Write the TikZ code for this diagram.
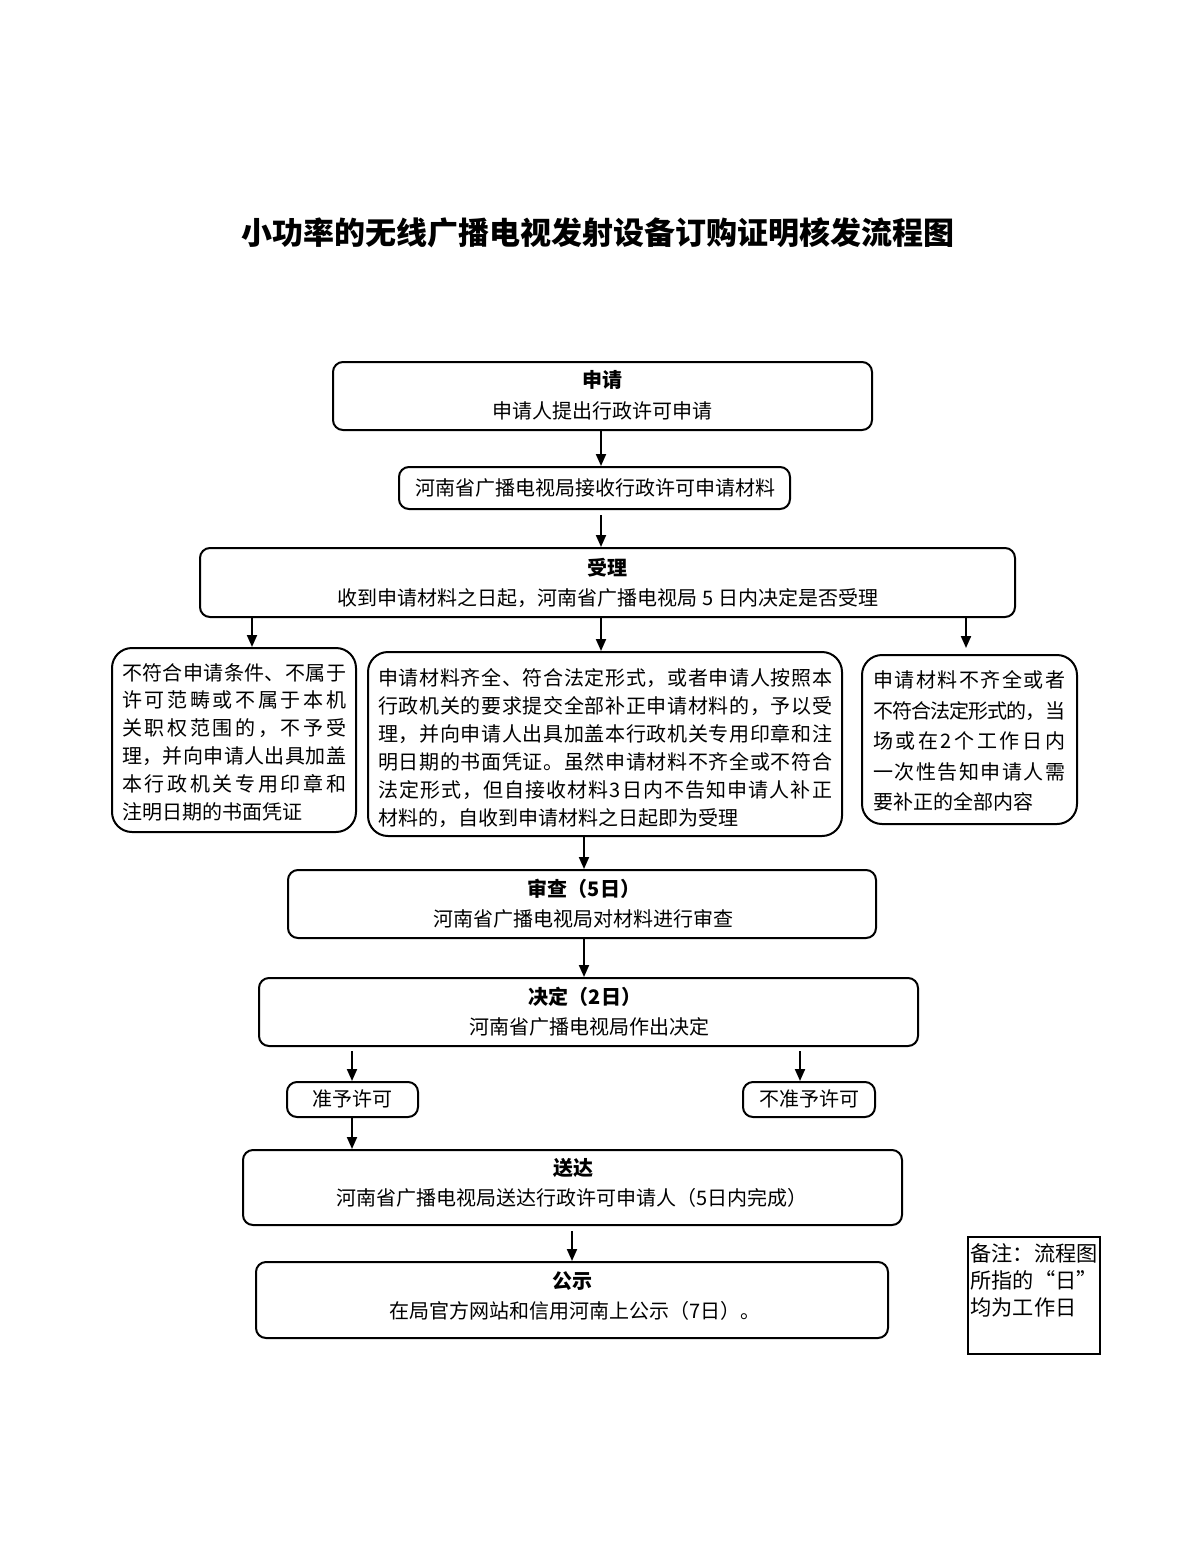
\documentclass[tikz,border=0pt]{standalone}
\usepackage{fontspec}
\setmainfont{Noto Sans CJK SC}
\usetikzlibrary{arrows.meta}
\def\spreadchars#1{\ifx#1\relax\else#1\hskip 0pt plus 1fil minus 0.6pt\relax\expandafter\spreadchars\fi}
\newcommand\sline[2]{\hbox to #1{\spreadchars#2\relax\unskip}}
\tikzset{
  box/.style={draw, line width=1pt, rounded corners=5pt, inner sep=0pt},
  bigbox/.style={draw, line width=1pt, rounded corners=10pt, inner sep=0pt},
  txt/.style={inner sep=0pt, font=\fontsize{10pt}{12pt}\selectfont},
  head/.style={inner sep=0pt, font=\fontsize{10pt}{12pt}\selectfont\bfseries},
  arr/.style={-{Triangle[width=5pt,length=6pt]}, line width=1pt},
}
\begin{document}
\begin{tikzpicture}[x=0.5pt,y=-0.5pt]
\path[use as bounding box, fill=white] (0,0) rectangle (1200,1553);

\node[inner sep=0pt, font=\fontsize{15.5pt}{18pt}\selectfont\bfseries] (title) at (598,233) {小功率的无线广播电视发射设备订购证明核发流程图};

% boxes
\node[box, minimum width=269.5pt, minimum height=34pt] (b1) at (602.5,396) {};
\node[box, minimum width=195.5pt, minimum height=21pt] (b2) at (594.5,488) {};
\node[box, minimum width=407.5pt, minimum height=34.5pt] (b3) at (607.5,582.5) {};
\node[bigbox, minimum width=122pt, minimum height=92pt] (bl) at (234,740) {};
\node[bigbox, minimum width=237pt, minimum height=92pt] (bm) at (605,744) {};
\node[bigbox, minimum width=107.5pt, minimum height=84.5pt] (br) at (969.5,739.5) {};
\node[box, minimum width=294pt, minimum height=34pt] (b4) at (582,904) {};
\node[box, minimum width=329.5pt, minimum height=34pt] (b5) at (588.5,1012) {};
\node[box, minimum width=65.5pt, minimum height=17.5pt] (by) at (352.5,1099.5) {};
\node[box, minimum width=66pt, minimum height=17.5pt] (bn) at (809,1099.5) {};
\node[box, minimum width=329.5pt, minimum height=37.5pt] (b6) at (572.5,1187.5) {};
\node[box, minimum width=316pt, minimum height=38pt] (b7) at (572,1300) {};
\node[draw, line width=0.8pt, minimum width=66pt, minimum height=58.5pt, inner sep=0pt] (note) at (1034,1295.5) {};

% texts
\node[head] (t1a) at (602,380) {申请};
\node[txt] (t1b) at (602,411) {申请人提出行政许可申请};
\node[txt] (t2) at (595,488) {河南省广播电视局接收行政许可申请材料};
\node[head] (t3a) at (607,568) {受理};
\node[txt] (t3b) at (608,598) {收到申请材料之日起，河南省广播电视局 5 日内决定是否受理};

\node[txt] (tl) at (234,742) {\vbox{\baselineskip=13.9pt
\sline{112pt}{不符合申请条件、不属于}
\sline{112pt}{许可范畴或不属于本机}
\sline{112pt}{关职权范围的，不予受}
\sline{112pt}{理，并向申请人出具加盖}
\sline{112pt}{本行政机关专用印章和}
\hbox{注明日期的书面凭证}}};

\node[txt] (tm) at (605,748) {\vbox{\baselineskip=14pt
\sline{227pt}{申请材料齐全、符合法定形式，或者申请人按照本}
\sline{227pt}{行政机关的要求提交全部补正申请材料的，予以受}
\sline{227pt}{理，并向申请人出具加盖本行政机关专用印章和注}
\sline{227pt}{明日期的书面凭证。虽然申请材料不齐全或不符合}
\sline{227pt}{法定形式，但自接收材料3日内不告知申请人补正}
\hbox{材料的，自收到申请材料之日起即为受理}}};

\node[txt] (tr) at (969,741) {\vbox{\baselineskip=15.25pt
\sline{96pt}{申请材料不齐全或者}
\sline{96pt}{不符合法定形式的，当}
\sline{96pt}{场或在2个工作日内}
\sline{96pt}{一次性告知申请人需}
\hbox{要补正的全部内容}}};

\node[head] (t4a) at (584,889) {审查（5日）};
\node[txt] (t4b) at (583,919) {河南省广播电视局对材料进行审查};
\node[head] (t5a) at (585,997) {决定（2日）};
\node[txt] (t5b) at (589,1027) {河南省广播电视局作出决定};
\node[txt] (ty) at (352,1099) {准予许可};
\node[txt] (tn) at (809,1099) {不准予许可};
\node[head] (t6a) at (573,1168) {送达};
\node[txt] (t6b) at (572,1198) {河南省广播电视局送达行政许可申请人（5日内完成）};
\node[head] (t7a) at (572,1281) {公示};
\node[txt] (t7b) at (575,1311) {在局官方网站和信用河南上公示（7日）。};

\node[inner sep=0pt, anchor=north west, font=\fontsize{10.6pt}{13.5pt}\selectfont, align=left] (tnote) at (970,1243) {备注：流程图\\所指的“日”\\均为工作日};

% x positions for connectors
\coordinate (x601) at (601,0);
\coordinate (x252) at (252,0);
\coordinate (x966) at (966,0);
\coordinate (x584) at (584,0);
\coordinate (x352) at (352,0);
\coordinate (x800) at (800,0);
\coordinate (x572) at (572,0);

\draw[arr] (b1.south -| x601) -- (b2.north -| x601);
\draw[arr, shorten <=2.5pt] (b2.south -| x601) -- (b3.north -| x601);
\draw[arr] (b3.south -| x252) -- (bl.north -| x252);
\draw[arr] (b3.south -| x601) -- (bm.north -| x601);
\draw[arr, shorten >=3pt] (b3.south -| x966) -- (br.north -| x966);
\draw[arr] (bm.south -| x584) -- (b4.north -| x584);
\draw[arr] (b4.south -| x584) -- (b5.north -| x584);
\draw[arr, shorten <=2pt] (b5.south -| x352) -- (by.north -| x352);
\draw[arr, shorten <=2pt] (b5.south -| x800) -- (bn.north -| x800);
\draw[arr] (by.south -| x352) -- (b6.north -| x352);
\draw[arr, shorten <=2.5pt] (b6.south -| x572) -- (b7.north -| x572);
\end{tikzpicture}
\end{document}
